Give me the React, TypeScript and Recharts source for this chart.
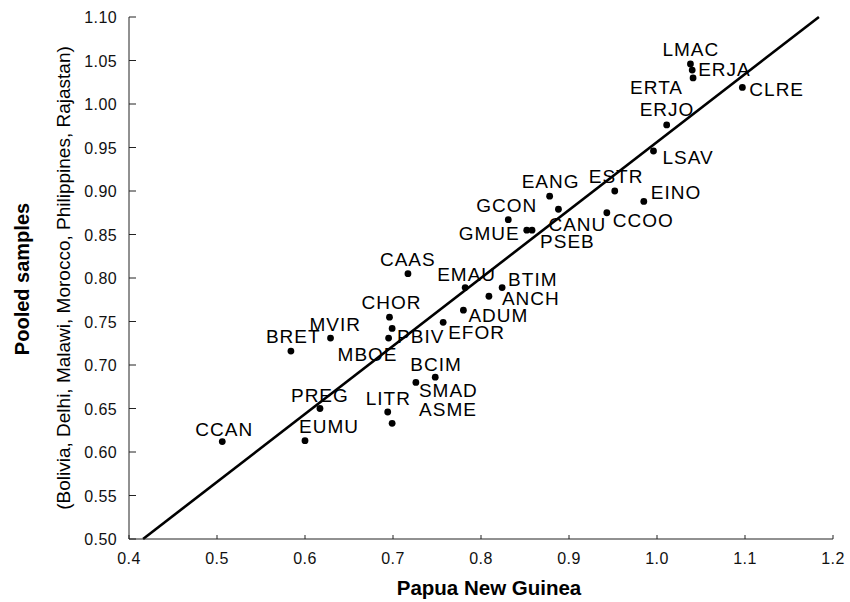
import React from 'react';
import {
  ScatterChart,
  Scatter,
  XAxis,
  YAxis,
  ReferenceLine,
} from 'recharts';

// sample codes, one per point
const codes = [
  'CCAN', 'EUMU', 'PREG', 'BRET', 'MVIR', 'MBOE', 'PBIV', 'CHOR', 'LITR', 'ASME',
  'SMAD', 'BCIM', 'EFOR', 'ADUM', 'CAAS', 'EMAU', 'ANCH', 'BTIM', 'GCON', 'GMUE',
  'PSEB', 'EANG', 'CANU', 'CCOO', 'ESTR', 'EINO', 'LSAV', 'ERJO', 'LMAC', 'ERJA',
  'ERTA', 'CLRE',
];

// Papua New Guinea values (x)
const pngValues = [
  0.506, 0.6, 0.617, 0.584, 0.629, 0.695, 0.699, 0.696, 0.694, 0.699,
  0.726, 0.748, 0.757, 0.78, 0.717, 0.782, 0.809, 0.824, 0.831, 0.852,
  0.858, 0.878, 0.888, 0.943, 0.952, 0.985, 0.996, 1.011, 1.038, 1.04,
  1.041, 1.097,
];

// pooled sample values (y)
const pooledValues = [
  0.612, 0.613, 0.65, 0.716, 0.731, 0.731, 0.742, 0.755, 0.646, 0.633,
  0.68, 0.686, 0.749, 0.763, 0.805, 0.789, 0.779, 0.789, 0.867, 0.855,
  0.855, 0.894, 0.879, 0.875, 0.9, 0.888, 0.946, 0.976, 1.046, 1.039,
  1.03, 1.019,
];

// fitted line end points
const fitX = [0.416, 1.184];
const fitY = [0.5, 1.1];

const xTicks = [0.4, 0.5, 0.6, 0.7, 0.8, 0.9, 1.0, 1.1, 1.2];
const yTicks = [0.5, 0.55, 0.6, 0.65, 0.7, 0.75, 0.8, 0.85, 0.9, 0.95, 1.0, 1.05, 1.1];

// where each label sits relative to its dot (left, baseline) in px
const labelOffset: Record<string, [number, number]> = {
  CAAS: [-28, -8], EMAU: [-28, -7], BTIM: [6, -2], ANCH: [13, 9],
  ADUM: [5, 12], EFOR: [5, 17], CHOR: [-28, -8], PBIV: [5, 15],
  MBOE: [-51, 23], MVIR: [-21, -7], BRET: [-25, -8], BCIM: [-25, -6],
  SMAD: [3, 15], ASME: [27, -7], LITR: [-22, -7], PREG: [-29, -7],
  EUMU: [-6, -8], CCAN: [-27, -6], LMAC: [-28, -8], ERJA: [6, 6],
  ERTA: [-63, 16], CLRE: [7, 9], ERJO: [-27, -9], LSAV: [9, 13],
  ESTR: [-26, -8], EINO: [7, -2], EANG: [-28, -8], CANU: [-10, 22],
  CCOO: [6, 14], GCON: [-32, -8], GMUE: [-68, 10], PSEB: [8, 18],
};

const FONT = '"Liberation Sans", Arial, sans-serif';

const data = codes.map((name, i) => ({ name, x: pngValues[i], y: pooledValues[i] }));

const PointWithLabel = (props: any) => {
  const { cx, cy, payload } = props;
  const [dx, dy] = labelOffset[payload.name] || [6, -6];
  return (
    <g>
      <circle cx={cx} cy={cy} r={3.4} fill="#000" />
      <text
        x={cx + dx}
        y={cy + dy}
        fontFamily={FONT}
        fontSize={19}
        letterSpacing={1}
        fill="#000"
      >
        {payload.name}
      </text>
    </g>
  );
};

const XTick = (props: any) => {
  const { x, y, payload } = props;
  return (
    <g>
      <line x1={x} y1={y} x2={x} y2={y - 4} stroke="#222" />
      <text x={x} y={y + 25} textAnchor="middle" fontFamily={FONT} fontSize={16} letterSpacing={0.4} fill="#111">
        {payload.value.toFixed(1)}
      </text>
    </g>
  );
};

const YTick = (props: any) => {
  const { x, y, payload } = props;
  return (
    <g>
      <line x1={x} y1={y} x2={x + 7} y2={y} stroke="#222" />
      <text x={x - 12} y={y + 6} textAnchor="end" fontFamily={FONT} fontSize={16} letterSpacing={0.4} fill="#111">
        {payload.value.toFixed(2)}
      </text>
    </g>
  );
};

const App: React.FC = () => {
  return (
    <div style={{ position: 'absolute', left: 0, top: 0, background: '#fff' }}>
      <ScatterChart width={850} height={602} margin={{ top: 17, right: 17, bottom: 0, left: 0 }}>
        <XAxis
          type="number"
          dataKey="x"
          domain={[0.4, 1.2]}
          ticks={xTicks}
          height={63}
          tickSize={0}
          tickMargin={0}
          tick={<XTick />}
          axisLine={{ stroke: '#222' }}
          allowDataOverflow
        />
        <YAxis
          type="number"
          dataKey="y"
          domain={[0.5, 1.1]}
          ticks={yTicks}
          width={129}
          tickSize={0}
          tickMargin={0}
          tick={<YTick />}
          axisLine={{ stroke: '#222' }}
          allowDataOverflow
        />
        <ReferenceLine
          segment={[
            { x: fitX[0], y: fitY[0] },
            { x: fitX[1], y: fitY[1] },
          ]}
          stroke="#000"
          strokeWidth={2.6}
        />
        <Scatter data={data} shape={<PointWithLabel />} isAnimationActive={false} />
        {/* axis titles */}
        <text
          x={489}
          y={595}
          textAnchor="middle"
          fontFamily={FONT}
          fontWeight="bold"
          fontSize={20.5}
          fill="#000"
        >
          Papua New Guinea
        </text>
        <text
          x={29}
          y={279}
          transform="rotate(-90 29 279)"
          textAnchor="middle"
          fontFamily={FONT}
          fontWeight="bold"
          fontSize={20}
          fill="#000"
        >
          Pooled samples
        </text>
        <text
          x={70}
          y={278}
          transform="rotate(-90 70 278)"
          textAnchor="middle"
          fontFamily={FONT}
          fontSize={19}
          fill="#000"
        >
          (Bolivia, Delhi, Malawi, Morocco, Philippines, Rajastan)
        </text>
      </ScatterChart>
    </div>
  );
};

export default App;
